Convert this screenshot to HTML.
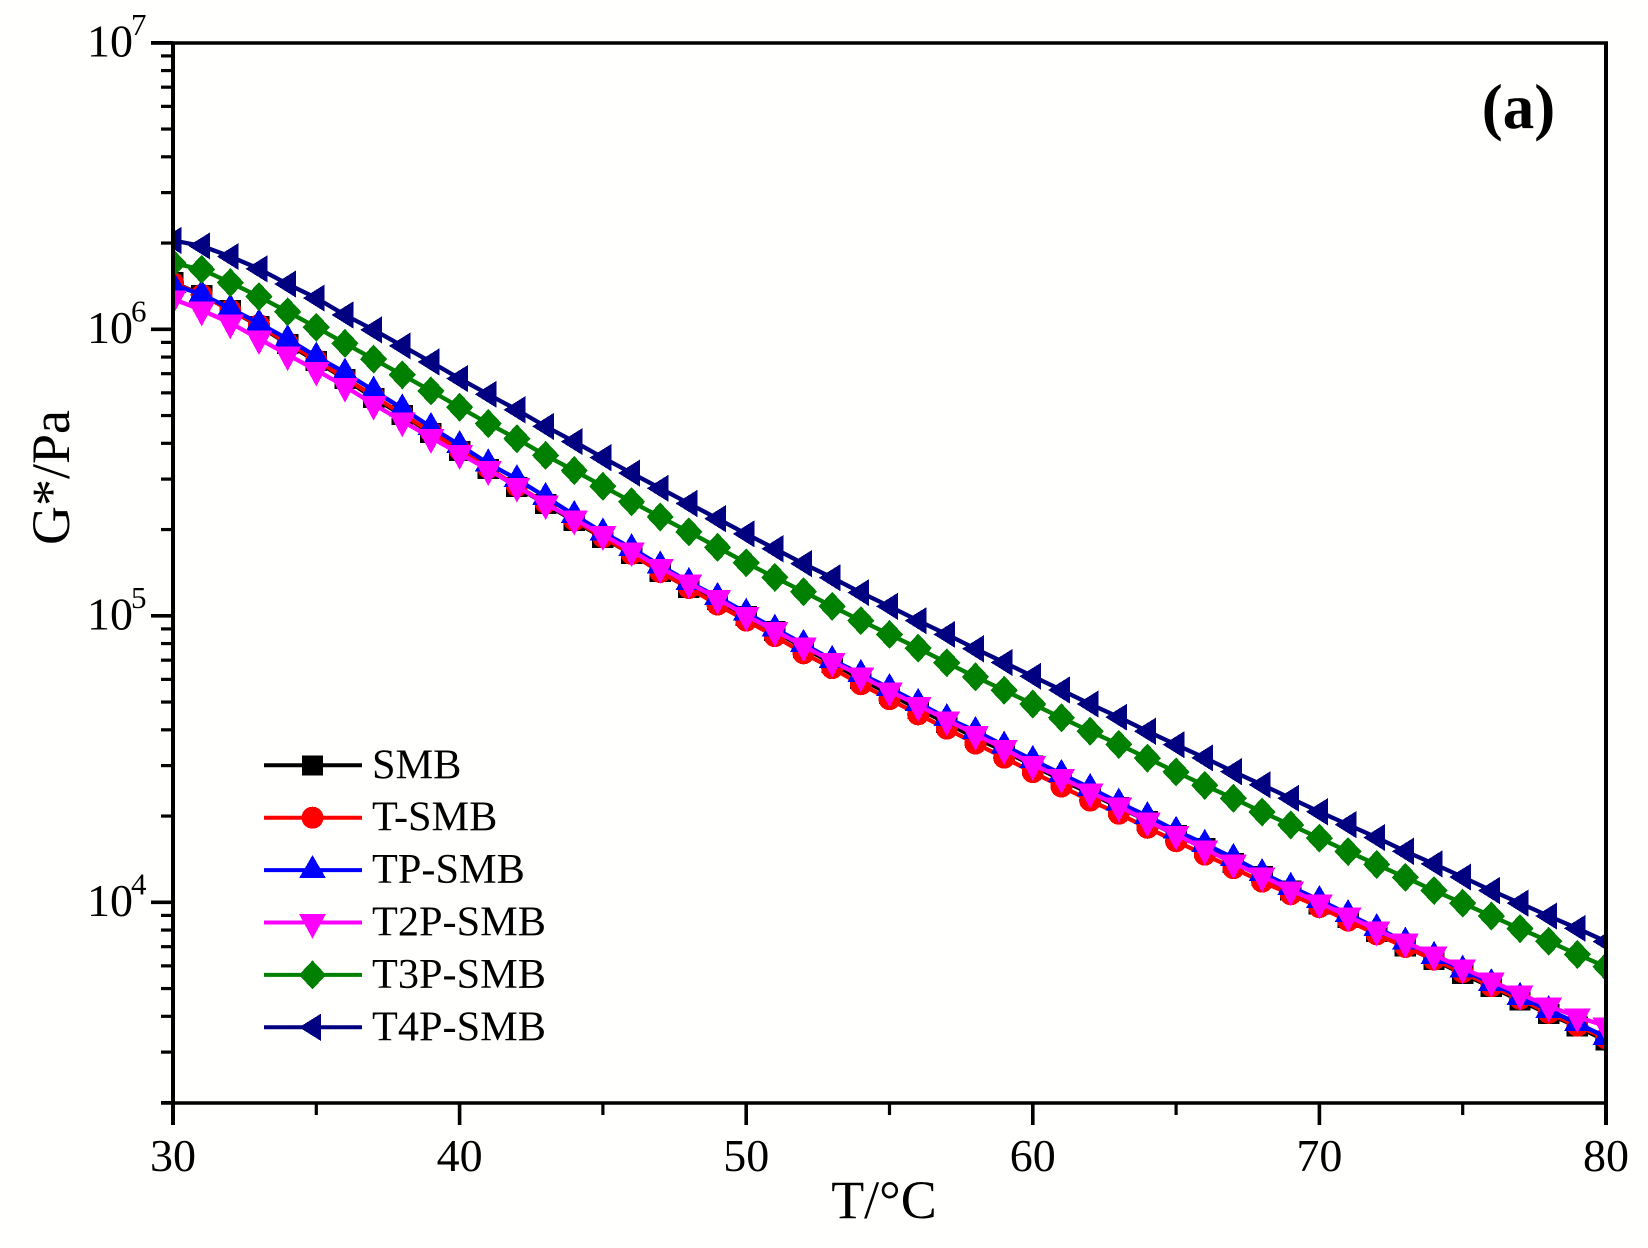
<!DOCTYPE html>
<html lang="en">
<head>
<meta charset="utf-8">
<title>G* versus temperature</title>
<style>
html,body{margin:0;padding:0;background:#fff;}
svg{display:block;font-family:"Liberation Serif",serif;fill:#000;}
</style>
</head>
<body>
<svg id="chart" xmlns="http://www.w3.org/2000/svg" width="1648" height="1248" viewBox="0 0 1648 1248">
  <rect x="0" y="0" width="1648" height="1248" fill="#fffffe"/>
  <defs>
    <clipPath id="plot-clip"><rect x="173" y="43" width="1433" height="1060"/></clipPath>
  </defs>
  <g id="series-layer" clip-path="url(#plot-clip)"></g>
  <g id="axis-layer"></g>
  <g id="legend-layer"></g>
  <text x="884" y="1218" font-size="54" text-anchor="middle">T/°C</text>
  <text transform="translate(69,477.5) rotate(-90)" font-size="54" text-anchor="middle">G*/Pa</text>
  <text x="1518.5" y="128" font-size="63" font-weight="bold" text-anchor="middle">(a)</text>
</svg>
<script>
// Temperature in deg C and log10(G*/Pa).
const temperatures = [30,31,32,33,34,35,36,37,38,39,40,41,42,43,44,45,46,47,48,49,50,51,52,53,54,55,56,57,58,59,60,61,62,63,64,65,66,67,68,69,70,71,72,73,74,75,76,77,78,79,80];
const logSMB = [6.165,6.120,6.067,6.012,5.949,5.889,5.827,5.760,5.701,5.638,5.575,5.512,5.450,5.390,5.331,5.272,5.216,5.153,5.097,5.055,4.999,4.947,4.888,4.835,4.779,4.727,4.675,4.626,4.574,4.528,4.478,4.427,4.380,4.332,4.284,4.235,4.189,4.138,4.091,4.041,3.993,3.945,3.896,3.845,3.799,3.750,3.704,3.657,3.610,3.566,3.517];
const logTSMB = [6.162,6.120,6.067,6.015,5.952,5.893,5.830,5.767,5.704,5.642,5.579,5.516,5.453,5.394,5.334,5.275,5.216,5.153,5.097,5.039,4.983,4.929,4.869,4.817,4.761,4.709,4.656,4.606,4.554,4.505,4.454,4.404,4.355,4.309,4.260,4.213,4.166,4.119,4.072,4.028,3.983,3.936,3.888,3.844,3.800,3.756,3.707,3.663,3.614,3.569,3.525];
const logTPSMB = [6.155,6.122,6.073,6.021,5.966,5.905,5.849,5.786,5.724,5.659,5.596,5.532,5.477,5.415,5.352,5.291,5.236,5.176,5.118,5.066,5.011,4.955,4.902,4.846,4.797,4.748,4.696,4.643,4.598,4.547,4.497,4.448,4.399,4.348,4.301,4.250,4.204,4.155,4.102,4.054,4.008,3.959,3.910,3.863,3.813,3.765,3.718,3.670,3.624,3.578,3.530];
const logT2PSMB = [6.106,6.067,6.022,5.967,5.911,5.857,5.801,5.738,5.680,5.622,5.566,5.510,5.452,5.391,5.337,5.283,5.227,5.168,5.115,5.060,5.001,4.948,4.895,4.841,4.790,4.738,4.687,4.637,4.586,4.536,4.481,4.435,4.385,4.336,4.284,4.237,4.186,4.137,4.092,4.043,3.998,3.952,3.903,3.861,3.816,3.771,3.725,3.680,3.638,3.600,3.568];
const logT3PSMB = [6.231,6.209,6.163,6.114,6.061,6.007,5.951,5.896,5.841,5.785,5.728,5.671,5.618,5.560,5.507,5.452,5.398,5.345,5.293,5.239,5.185,5.134,5.084,5.033,4.983,4.935,4.887,4.836,4.787,4.740,4.692,4.644,4.597,4.551,4.503,4.455,4.408,4.363,4.315,4.270,4.224,4.177,4.132,4.087,4.041,3.997,3.952,3.908,3.864,3.818,3.775];
const logT4PSMB = [6.310,6.291,6.254,6.211,6.158,6.109,6.050,5.998,5.942,5.886,5.828,5.773,5.719,5.661,5.608,5.552,5.498,5.445,5.392,5.339,5.286,5.234,5.182,5.133,5.081,5.033,4.983,4.935,4.885,4.837,4.789,4.741,4.692,4.646,4.597,4.550,4.504,4.456,4.410,4.363,4.316,4.271,4.226,4.178,4.134,4.088,4.041,3.997,3.952,3.909,3.863];
const seriesNames = ["SMB","T-SMB","TP-SMB","T2P-SMB","T3P-SMB","T4P-SMB"];
const seriesValues = [logSMB,logTSMB,logTPSMB,logT2PSMB,logT3PSMB,logT4PSMB];
const seriesColors = ["#000000","#ff0000","#0000ff","#ff00ff","#008000","#000080"];
const seriesMarkers = ["square","circle","up","down","diamond","left"];
const xMajorTicks = [30,40,50,60,70,80];
const xMinorTicks = [35,45,55,65,75];
const yMajorExponents = [7,6,5,4];
const yMinorMantissas = [2,3,4,5,6,7,8,9];
const yMinorDecades = [3,4,5,6];

const SVG_NS = "http://www.w3.org/2000/svg";
const xLeft = 173, xRight = 1606, yTop = 42.8, yBottom = 1103;
const decadePx = 286.5;
function xPos(t){ return xLeft + (t - 30) * (xRight - xLeft) / 50; }
function yPos(logG){ return yTop + (7 - logG) * decadePx; }

function make(tag, parent){
  const el = document.createElementNS(SVG_NS, tag);
  parent.appendChild(el);
  return el;
}
function markerShape(kind, cx, cy, color, parent){
  let el;
  if (kind === "circle"){
    el = make("circle", parent);
    el.setAttribute("cx", cx);
    el.setAttribute("cy", cy);
    el.setAttribute("r", 11);
  } else if (kind === "square"){
    el = make("rect", parent);
    el.setAttribute("x", cx - 10.7);
    el.setAttribute("y", cy - 10);
    el.setAttribute("width", 21.4);
    el.setAttribute("height", 20);
  } else {
    const pts = {
      up: [[0,-15],[13.4,8],[-13.4,8]],
      down: [[-13.4,-8.5],[13.4,-8.5],[0,16.3]],
      diamond: [[0,-14.5],[13.6,0],[0,14.5],[-13.6,0]],
      left: [[-13.4,0],[8.4,-13.6],[8.4,13.6]]
    }[kind];
    el = make("polygon", parent);
    el.setAttribute("points", pts.map(p => (cx + p[0]) + "," + (cy + p[1])).join(" "));
  }
  el.setAttribute("fill", color);
  el.setAttribute("shape-rendering", "crispEdges");
  return el;
}

const seriesLayer = document.getElementById("series-layer");
seriesValues.forEach(function(values, s){
  const g = make("g", seriesLayer);
  
  
  const line = make("polyline", g);
  
  
  line.setAttribute("fill", "none");
  line.setAttribute("stroke", seriesColors[s]);
  line.setAttribute("stroke-width", 4.3);
  line.setAttribute("stroke-linejoin", "round");
  line.setAttribute("points", values.map((v, i) => xPos(temperatures[i]) + "," + yPos(v)).join(" "));
  values.forEach(function(v, i){
    const m = markerShape(seriesMarkers[s], xPos(temperatures[i]), yPos(v), seriesColors[s], g);
    
    
  });
});

const axisLayer = document.getElementById("axis-layer");
function axisLine(x1, y1, x2, y2, w, parent){
  const l = make("line", parent);
  l.setAttribute("x1", x1);
  l.setAttribute("y1", y1);
  l.setAttribute("x2", x2);
  l.setAttribute("y2", y2);
  l.setAttribute("stroke", "#000");
  l.setAttribute("stroke-width", w);
  return l;
}
const frameTop = axisLine(151, yTop + 0.2, xRight + 2, yTop + 0.2, 3.6, axisLayer);


const frameRight = axisLine(xRight, yTop, xRight, 1125, 4, axisLayer);


const frameLeft = axisLine(xLeft, yTop, xLeft, 1125, 4, axisLayer);


const frameBottom = axisLine(161, yBottom, xRight + 2, yBottom, 3.6, axisLayer);



xMajorTicks.forEach(function(t){
  const tick = axisLine(xPos(t), yBottom, xPos(t), 1125, 3.6, axisLayer);
  
  
  const lab = make("text", axisLayer);
  
  
  lab.setAttribute("x", xPos(t));
  lab.setAttribute("y", 1171);
  lab.setAttribute("font-size", 46);
  lab.setAttribute("text-anchor", "middle");
  lab.textContent = String(t);
});
xMinorTicks.forEach(function(t){
  const tick = axisLine(xPos(t), yBottom, xPos(t), 1115, 3.2, axisLayer);
  
  
});
yMajorExponents.forEach(function(e){
  const y = yPos(e);
  const tick = axisLine(151, y, xLeft, y, 3.6, axisLayer);
  
  
  const lab = make("text", axisLayer);
  
  
  lab.setAttribute("x", 87);
  lab.setAttribute("y", y + 13.5);
  lab.setAttribute("font-size", 46);
  lab.textContent = "10";
  const sup = make("tspan", lab);
  sup.setAttribute("dx", -2);
  sup.setAttribute("dy", -21.5);
  sup.setAttribute("font-size", 31);
  sup.textContent = String(e);
});
yMinorDecades.forEach(function(d){
  yMinorMantissas.forEach(function(m){
    const logV = d + Math.log10(m);
    if (logV < 3.3 - 1e-6) return;
    const y = yPos(logV);
    const tick = axisLine(161, y, xLeft, y, 3.2, axisLayer);
    
    
  });
});

const legendLayer = document.getElementById("legend-layer");
seriesNames.forEach(function(name, s){
  const rowY = 765.3 + 52.4 * s;
  const row = make("g", legendLayer);
  
  
  const swatch = axisLine(264, rowY, 362, rowY, 4, row);
  swatch.setAttribute("stroke", seriesColors[s]);
  
  
  const mk = markerShape(seriesMarkers[s], 312.5, rowY, seriesColors[s], row);
  
  
  const label = make("text", row);
  
  
  label.setAttribute("x", 372);
  label.setAttribute("y", rowY + 13);
  label.setAttribute("font-size", 42.3);
  label.textContent = name;
});
</script>
</body>
</html>
